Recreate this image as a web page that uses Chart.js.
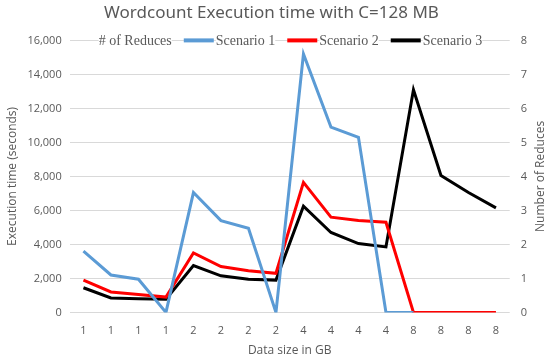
<!DOCTYPE html>
<html>
<head>
<meta charset="utf-8">
<script src="https://cdn.jsdelivr.net/npm/chart.js@4"></script>
<style>
  html, body { margin: 0; padding: 0; background: #fff; }
</style>
</head>
<body>
<canvas id="chart" width="550" height="361"></canvas>
<script>
const dataSizes = ["1","1","1","1","2","2","2","2","4","4","4","4","8","8","8","8"];
const scenario1 = [3600, 2200, 1950, 0, 7050, 5400, 4950, 0, 15200, 10900, 10300, 0, 0, null, null, null];
const scenario2 = [1900, 1200, 1050, 900, 3500, 2700, 2450, 2300, 7650, 5600, 5400, 5300, 0, 0, 0, 0];
const scenario3 = [1450, 850, 800, 780, 2750, 2150, 1950, 1900, 6250, 4700, 4050, 3850, 13100, 8050, 7050, 6150];
const reduces = [];

const grey = '#595959';
const tickFont = { family: 'Open Sans', size: 11 };

// Excel style legend drawn across the top gridline + right axis title read bottom-up
const excelBits = {
  id: 'excelBits',
  afterDraw(chart) {
    const c = chart.ctx;
    const area = chart.chartArea;
    const y = area.top;
    const markW = 30, gap = 2, space = 12;
    c.save();
    c.font = '14px "Liberation Serif"';
    c.textBaseline = 'middle';
    let x = area.left - 3;
    chart.data.datasets.forEach(ds => {
      const tw = c.measureText(ds.label).width;
      c.fillStyle = ds.borderColor;
      c.fillRect(x, y - 2, markW, 4);
      const tx = x + markW + gap;
      c.fillStyle = '#fff';
      c.fillRect(tx, y - 8, tw, 16);
      c.fillStyle = grey;
      c.fillText(ds.label, tx, y + 1);
      x = tx + tw + space;
    });

    c.translate(541, (area.top + area.bottom) / 2);
    c.rotate(-Math.PI / 2);
    c.font = '12px "Open Sans"';
    c.textAlign = 'center';
    c.fillStyle = grey;
    c.fillText('Number of Reduces', 0, 0);
    c.restore();
  }
};

function line(label, data, color) {
  return {
    label: label,
    data: data,
    borderColor: color,
    backgroundColor: color,
    borderWidth: 3,
    pointRadius: 0,
    tension: 0,
    yAxisID: 'y'
  };
}

const ctx = document.getElementById('chart').getContext('2d');
new Chart(ctx, {
  type: 'line',
  data: {
    labels: dataSizes,
    datasets: [
      { label: '# of Reduces', data: reduces, borderColor: 'rgba(0,0,0,0)', backgroundColor: 'rgba(0,0,0,0)', borderWidth: 0, pointRadius: 0, yAxisID: 'y1' },
      line('Scenario 1', scenario1, '#5B9BD5'),
      line('Scenario 2', scenario2, '#FF0000'),
      line('Scenario 3', scenario3, '#000000')
    ]
  },
  options: {
    responsive: false,
    animation: false,
    layout: { padding: { left: 5, right: 12, top: 3, bottom: 3 } },
    plugins: {
      title: {
        display: true,
        text: 'Wordcount Execution time with C=128 MB',
        color: grey,
        font: { family: 'Noto Sans', size: 17, weight: 'normal' },
        padding: { top: 0, bottom: 17 }
      },
      legend: { display: false },
      tooltip: { enabled: false }
    },
    scales: {
      x: {
        offset: true,
        grid: { display: false },
        border: { display: false },
        ticks: { color: grey, font: tickFont, maxRotation: 0, autoSkip: false, padding: 4 },
        title: { display: true, text: 'Data size in GB', color: grey, font: { family: 'Open Sans', size: 12 }, padding: { top: 2, bottom: 0 } }
      },
      y: {
        min: 0,
        max: 16000,
        ticks: { stepSize: 2000, color: grey, font: tickFont, padding: 8 },
        grid: { color: '#d9d9d9', lineWidth: 1, drawTicks: false },
        border: { display: false },
        title: { display: true, text: 'Execution time (seconds)', color: grey, font: { family: 'Open Sans', size: 12 }, padding: 0 }
      },
      y1: {
        position: 'right',
        min: 0,
        max: 8,
        ticks: { stepSize: 1, color: grey, font: tickFont, padding: 11 },
        grid: { drawOnChartArea: false, drawTicks: false },
        border: { display: false }
      }
    }
  },
  plugins: [excelBits]
});
</script>
</body>
</html>
